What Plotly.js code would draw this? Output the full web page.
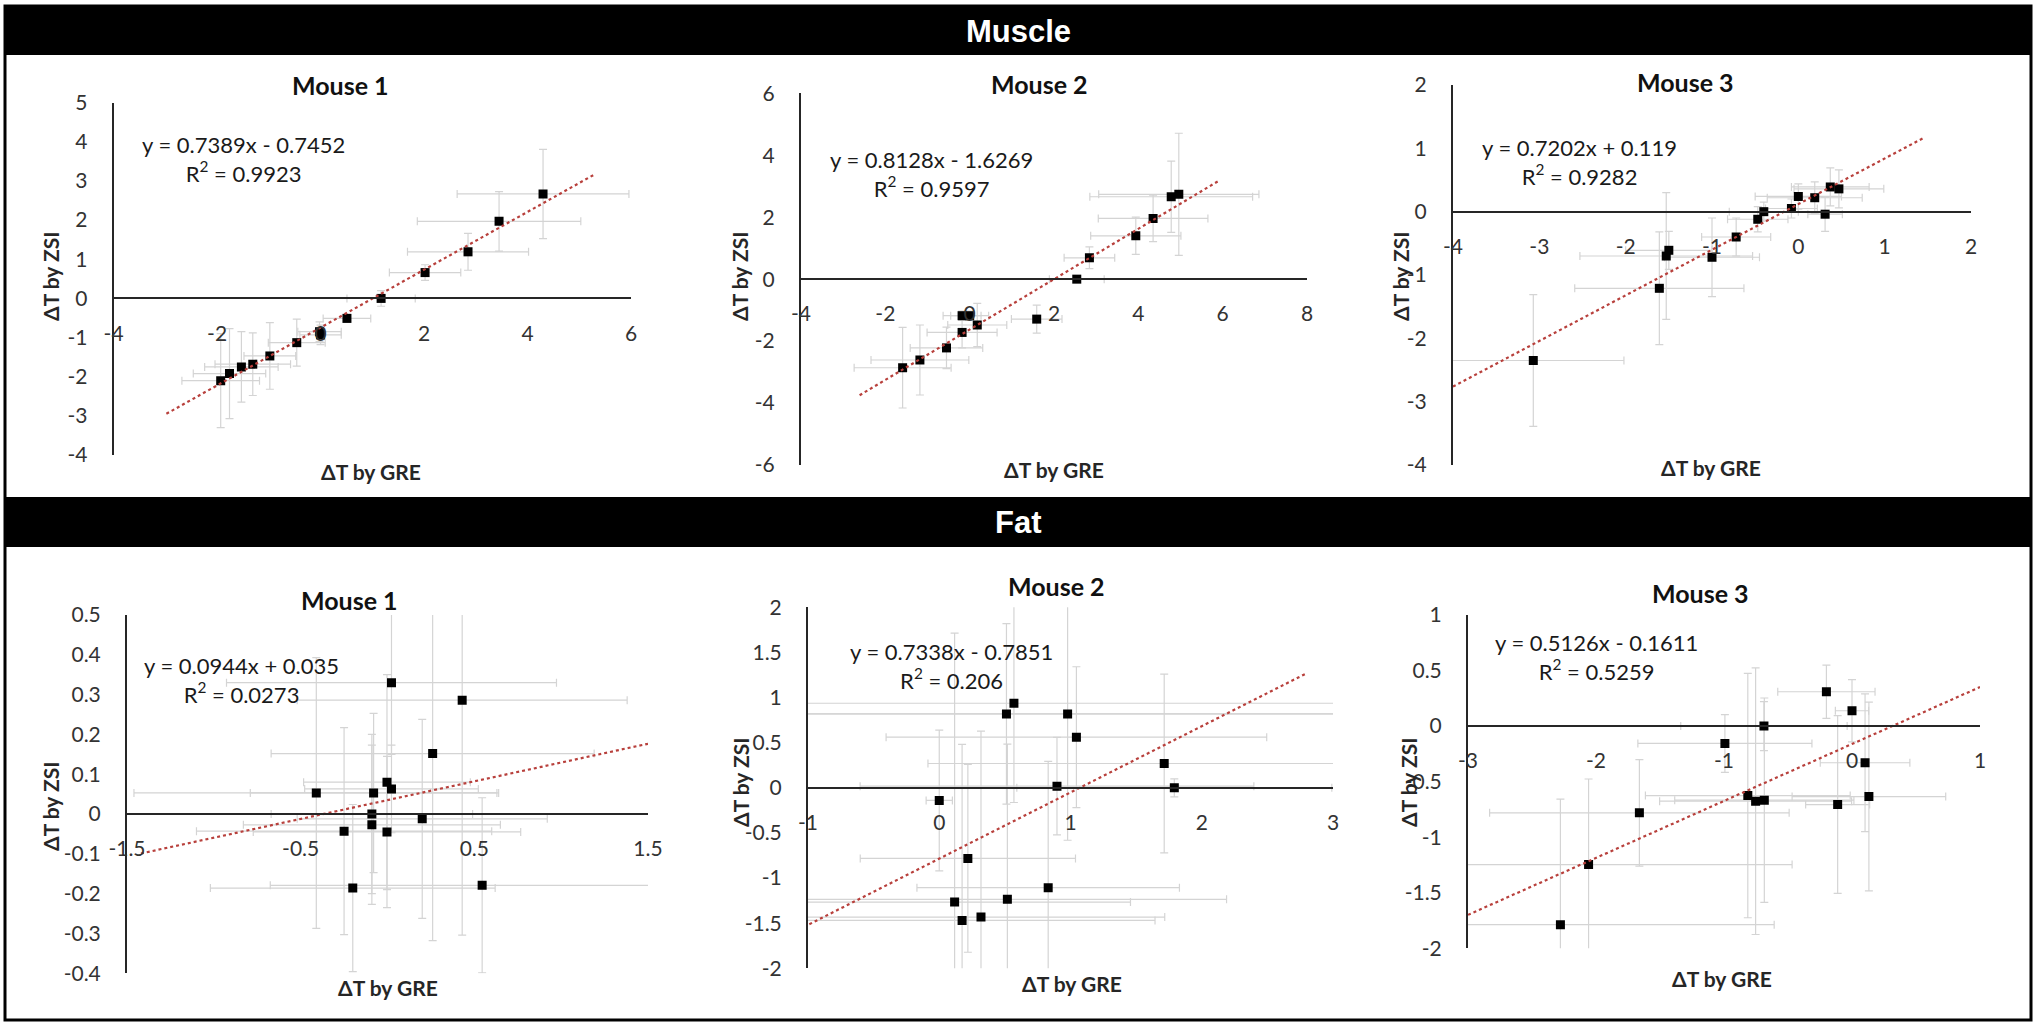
<!DOCTYPE html>
<html><head><meta charset="utf-8">
<script src="https://cdn.plot.ly/plotly-3.0.1.min.js"></script>
<style>html,body{margin:0;padding:0;background:#fff}#chart{width:2040px;height:1025px}</style>
</head><body><div id="chart"></div>
<script>
// ---------------- DATA ----------------
const sections = ["Muscle", "Fat"];
const mice = ["Mouse 1", "Mouse 2", "Mouse 3"];
const xAxisTitle = "ΔT by GRE";
const yAxisTitle = "ΔT by ZSI";

// Muscle – Mouse 1
const muscle1GRE    = [-1.93,-1.76,-1.53,-1.31,-0.98,-0.46,-0.02,0.00,0.51,1.17,2.02,2.85,3.45,4.30];
const muscle1ZSI    = [-2.10,-1.92,-1.75,-1.68,-1.47,-1.13,-0.85,-0.93,-0.51,0.00,0.66,1.19,1.97,2.67];
const muscle1GREerr = [0.75,0.70,0.71,0.73,0.50,0.55,0.42,0.40,0.46,0.66,0.69,1.17,1.58,1.66];
const muscle1ZSIerr = [1.20,1.15,0.90,0.80,0.85,0.60,0.25,0.25,0.10,0.20,0.20,0.47,0.76,1.14];

// Muscle – Mouse 2
const muscle2GRE    = [-1.59,-1.18,-0.55,-0.18,-0.18,0.00,0.18,1.59,2.54,2.84,3.94,4.35,4.78,4.96];
const muscle2ZSI    = [-2.86,-2.61,-2.22,-1.72,-1.18,-1.18,-1.48,-1.29,0.00,0.69,1.40,1.96,2.66,2.74];
const muscle2GREerr = [1.15,1.16,0.86,0.83,0.45,0.45,0.70,0.60,0.65,0.60,1.07,1.30,1.93,1.90];
const muscle2ZSIerr = [1.30,1.13,0.67,0.50,0.15,0.15,0.70,0.45,0.10,0.35,0.60,0.75,1.15,1.97];

// Muscle – Mouse 3
const muscle3GRE    = [-3.07,-1.61,-1.53,-1.50,-1.00,-0.72,-0.47,-0.40,-0.08,0.00,0.19,0.31,0.37,0.47];
const muscle3ZSI    = [-2.35,-1.21,-0.70,-0.61,-0.72,-0.40,-0.12,0.00,0.05,0.24,0.22,-0.04,0.39,0.36];
const muscle3GREerr = [1.05,0.98,1.00,0.50,0.55,0.40,0.35,0.40,0.30,0.50,0.55,0.20,0.45,0.52];
const muscle3ZSIerr = [1.04,0.89,1.00,0.30,0.62,0.30,0.20,0.15,0.15,0.20,0.25,0.27,0.30,0.30];

// Fat – Mouse 1
const fat1GRE    = [-0.41,-0.25,-0.20,-0.09,-0.09,-0.08,-0.003,0.023,-0.003,0.023,0.20,0.26,0.43,0.545];
const fat1ZSI    = [0.053,-0.043,-0.186,0.000,-0.027,0.053,0.080,0.063,-0.045,0.330,-0.012,0.152,0.286,-0.179];
const fat1GREerr = [1.05,0.85,0.82,0.58,0.74,0.71,0.48,0.50,0.77,0.95,0.72,0.93,0.95,1.22];
const fat1ZSIerr = [0.34,0.26,0.21,0.20,0.20,0.20,0.27,0.11,0.19,0.18,0.25,0.47,0.59,0.22];

// Fat – Mouse 2
const fat2GRE    = [0.000,0.117,0.174,0.218,0.318,0.512,0.519,0.569,0.830,0.897,0.978,1.045,1.714,1.791];
const fat2ZSI    = [-0.140,-1.266,-1.469,-0.782,-1.432,0.819,-1.236,0.937,-1.107,0.018,0.819,0.561,0.269,0.000];
const fat2GREerr = [0.10,1.34,1.47,0.82,1.40,2.50,1.67,2.50,1.00,1.50,2.50,1.45,1.80,1.20];
const fat2ZSIerr = [0.78,2.98,1.95,1.04,2.06,1.00,1.72,1.10,1.40,0.54,1.40,0.78,0.99,0.10];

// Fat – Mouse 3
const fat3GRE    = [-2.278,-2.058,-1.661,-0.993,-0.814,-0.753,-0.685,-0.688,-0.200,-0.112,0.000,0.102,0.132];
const fat3ZSI    = [-1.787,-1.246,-0.781,-0.156,-0.625,-0.676,-0.667,0.000,0.309,-0.706,0.138,-0.330,-0.634];
const fat3GREerr = [1.67,1.59,1.17,0.68,0.80,0.75,0.70,0.65,0.38,0.25,0.13,0.35,0.60];
const fat3ZSIerr = [1.13,0.77,0.48,0.26,1.10,1.20,0.92,0.22,0.24,0.80,0.28,0.62,0.85];

// Linear trendlines (Muscle M1..M3, Fat M1..M3)
const trendSlope     = [0.7389, 0.8128, 0.7202, 0.0944, 0.7338, 0.5126];
const trendIntercept = [-0.7452, -1.6269, 0.119, 0.035, -0.7851, -0.1611];
const trendR2        = ["0.9923", "0.9597", "0.9282", "0.0273", "0.206", "0.5259"];
const trendFromX     = [-2.98, -2.61, -4.0, -1.42, -0.99, -3.0];
const trendToX       = [5.28, 5.90, 1.45, 1.50, 2.80, 1.00];

// Axis tick labels
const muscle1XTicks = [-4,-2,0,2,4,6];
const muscle1YTicks = [-4,-3,-2,-1,0,1,2,3,4,5];
const muscle2XTicks = [-4,-2,0,2,4,6,8];
const muscle2YTicks = [-6,-4,-2,0,2,4,6];
const muscle3XTicks = [-4,-3,-2,-1,0,1,2];
const muscle3YTicks = [-4,-3,-2,-1,0,1,2];
const fat1XTicks = [-1.5,-0.5,0.5,1.5];
const fat1YTicks = [-0.4,-0.3,-0.2,-0.1,0,0.1,0.2,0.3,0.4,0.5];
const fat2XTicks = [-1,0,1,2,3];
const fat2YTicks = [-2,-1.5,-1,-0.5,0,0.5,1,1.5,2];
const fat3XTicks = [-3,-2,-1,0,1];
const fat3YTicks = [-2,-1.5,-1,-0.5,0,0.5,1];

// ---------------- LAYOUT / STYLE ----------------
const W = 2040, H = 1025;
const px = v => v / W;
const py = v => 1 - v / H;
const FONT = 'Lato, "Open Sans", "Noto Sans", sans-serif';

const panels = [
  {gre: muscle1GRE, zsi: muscle1ZSI, ge: muscle1GREerr, ze: muscle1ZSIerr, xt: muscle1XTicks, yt: muscle1YTicks,
   xr: [-4,6], yr: [-4,5], xpx: [113.6,631], ypx: [102.7,455], title: [340,85], eq: [243,159], ytl: [50,277], xtl: [371,472], mouse: 0},
  {gre: muscle2GRE, zsi: muscle2ZSI, ge: muscle2GREerr, ze: muscle2ZSIerr, xt: muscle2XTicks, yt: muscle2YTicks,
   xr: [-4,8], yr: [-6,6], xpx: [801,1307], ypx: [93.3,465], title: [1039,84], eq: [931,174], ytl: [739,277], xtl: [1054,470], mouse: 1},
  {gre: muscle3GRE, zsi: muscle3ZSI, ge: muscle3GREerr, ze: muscle3ZSIerr, xt: muscle3XTicks, yt: muscle3YTicks,
   xr: [-4,2], yr: [-4,2], xpx: [1453,1971], ypx: [85,465], title: [1685,82], eq: [1579,162], ytl: [1400,277], xtl: [1711,468], mouse: 2},
  {gre: fat1GRE, zsi: fat1ZSI, ge: fat1GREerr, ze: fat1ZSIerr, xt: fat1XTicks, yt: fat1YTicks,
   xr: [-1.5,1.5], yr: [-0.4,0.5], xpx: [127,648], ypx: [615,973.3], title: [349,600], eq: [241,680], ytl: [50,807], xtl: [388,987], mouse: 0},
  {gre: fat2GRE, zsi: fat2ZSI, ge: fat2GREerr, ze: fat2ZSIerr, xt: fat2XTicks, yt: fat2YTicks,
   xr: [-1,3], yr: [-2,2], xpx: [808,1333], ypx: [607.3,968.3], title: [1056,586], eq: [951,666], ytl: [740,783], xtl: [1072,983], mouse: 1},
  {gre: fat3GRE, zsi: fat3ZSI, ge: fat3GREerr, ze: fat3ZSIerr, xt: fat3XTicks, yt: fat3YTicks,
   xr: [-3,1], yr: [-2,1], xpx: [1468,1980], ypx: [615,948.3], title: [1700,593], eq: [1596,657], ytl: [1408,783], xtl: [1722,978], mouse: 2}
];

const traces = [];
const layout = {
  width: W, height: H,
  margin: {l: 0, r: 0, t: 0, b: 0},
  paper_bgcolor: '#ffffff', plot_bgcolor: 'rgba(0,0,0,0)',
  showlegend: false,
  font: {family: FONT, color: '#262626'},
  shapes: [], annotations: []
};

panels.forEach((p, i) => {
  const n = i + 1;
  const xa = 'x' + (n === 1 ? '' : n), ya = 'y' + (n === 1 ? '' : n);
  const xk = 'xaxis' + (n === 1 ? '' : n), yk = 'yaxis' + (n === 1 ? '' : n);
  const yDomain = [py(p.ypx[1]), py(p.ypx[0])];
  const zeroFrac = yDomain[0] + (0 - p.yr[0]) / (p.yr[1] - p.yr[0]) * (yDomain[1] - yDomain[0]);

  layout[xk] = {
    domain: [px(p.xpx[0]), px(p.xpx[1])], range: p.xr, anchor: 'free', position: zeroFrac,
    showgrid: false, zeroline: false, showline: true, linecolor: '#262626', linewidth: 2,
    ticks: 'outside', ticklen: 16, tickcolor: 'rgba(0,0,0,0)',
    tickvals: p.xt, ticktext: p.xt.map(String),
    tickfont: {family: FONT, size: 21, color: '#333333'}, fixedrange: true
  };
  layout[yk] = {
    domain: yDomain, range: p.yr, anchor: xa,
    showgrid: false, zeroline: false, showline: true, linecolor: '#262626', linewidth: 2,
    ticks: 'outside', ticklen: 20, tickcolor: 'rgba(0,0,0,0)',
    tickvals: p.yt, ticktext: p.yt.map(String),
    tickfont: {family: FONT, size: 21, color: '#333333'}, fixedrange: true
  };

  traces.push({
    type: 'scatter', mode: 'markers', x: p.gre, y: p.zsi, xaxis: xa, yaxis: ya,
    marker: {symbol: 'square', size: 9, color: '#000000'},
    error_x: {type: 'data', array: p.ge, visible: true, color: '#d4d4d4', thickness: 1.2, width: 4},
    error_y: {type: 'data', array: p.ze, visible: true, color: '#d4d4d4', thickness: 1.2, width: 4},
    cliponaxis: true, hoverinfo: 'skip'
  });
  const tx = [trendFromX[i], trendToX[i]];
  traces.push({
    type: 'scatter', mode: 'lines', x: tx, y: tx.map(v => trendSlope[i] * v + trendIntercept[i]),
    xaxis: xa, yaxis: ya, line: {color: '#b8403c', width: 2.2, dash: 'dot'}, hoverinfo: 'skip'
  });

  const b = trendIntercept[i];
  const eqText = 'y = ' + trendSlope[i] + 'x ' + (b < 0 ? '- ' : '+ ') + Math.abs(b) +
                 '<br>R<sup>2</sup> = ' + trendR2[i];
  layout.annotations.push(
    {xref: 'paper', yref: 'paper', x: px(p.title[0]), y: py(p.title[1]), xanchor: 'center', yanchor: 'middle',
     text: '<b>' + mice[p.mouse] + '</b>', showarrow: false, font: {family: FONT, size: 25, color: '#111'}},
    {xref: 'paper', yref: 'paper', x: px(p.eq[0]), y: py(p.eq[1]), xanchor: 'center', yanchor: 'middle', align: 'center',
     text: eqText, showarrow: false, font: {family: FONT, size: 22, color: '#1a1a1a'}},
    {xref: 'paper', yref: 'paper', x: px(p.ytl[0]), y: py(p.ytl[1]), xanchor: 'center', yanchor: 'middle', textangle: -90,
     text: '<b>' + yAxisTitle + '</b>', showarrow: false, font: {family: FONT, size: 21, color: '#262626'}},
    {xref: 'paper', yref: 'paper', x: px(p.xtl[0]), y: py(p.xtl[1]), xanchor: 'center', yanchor: 'middle',
     text: '<b>' + xAxisTitle + '</b>', showarrow: false, font: {family: FONT, size: 21, color: '#262626'}}
  );
});

// frame and section bars
layout.shapes.push(
  {type: 'rect', xref: 'paper', yref: 'paper', x0: px(5), x1: px(2031), y0: py(1020), y1: py(6),
   line: {color: '#000', width: 3}, fillcolor: 'rgba(0,0,0,0)', layer: 'below'},
  {type: 'rect', xref: 'paper', yref: 'paper', x0: px(5), x1: px(2031), y0: py(55), y1: py(6),
   line: {color: '#000', width: 0}, fillcolor: '#000', layer: 'below'},
  {type: 'rect', xref: 'paper', yref: 'paper', x0: px(5), x1: px(2031), y0: py(547), y1: py(497),
   line: {color: '#000', width: 0}, fillcolor: '#000', layer: 'below'}
);
layout.annotations.push(
  {xref: 'paper', yref: 'paper', x: px(1018), y: py(31), xanchor: 'center', yanchor: 'middle',
   text: '<b>' + sections[0] + '</b>', showarrow: false,
   font: {family: '"Liberation Sans Narrow", "Liberation Sans", Arial, sans-serif', size: 31, color: '#fff'}},
  {xref: 'paper', yref: 'paper', x: px(1018), y: py(522), xanchor: 'center', yanchor: 'middle',
   text: '<b>' + sections[1] + '</b>', showarrow: false,
   font: {family: '"Liberation Sans Narrow", "Liberation Sans", Arial, sans-serif', size: 31, color: '#fff'}}
);

Plotly.newPlot('chart', traces, layout, {staticPlot: true, displayModeBar: false});
</script>
</body></html>
